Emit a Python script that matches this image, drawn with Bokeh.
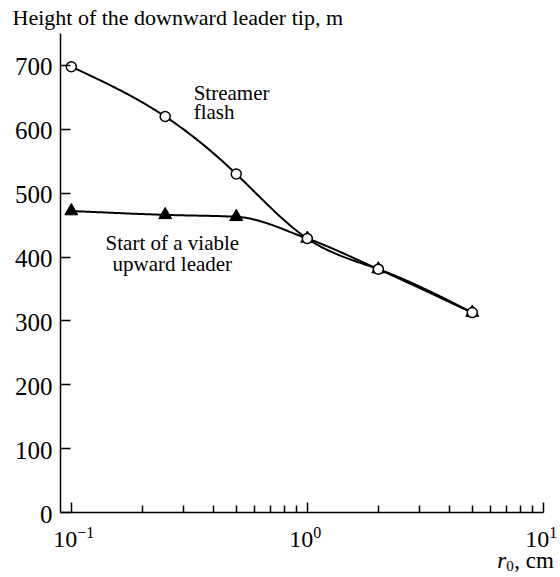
import numpy as np
from bokeh.plotting import figure
from bokeh.models import Range1d, FixedTicker, Label
from bokeh.embed import file_html
from bokeh.resources import INLINE

# ---- data ----
r0_cm = [0.1, 0.25, 0.5, 1.0, 2.0, 5.0]
streamer_flash_m = [698, 620, 530, 429, 381, 313]
viable_leader_m = [472, 466, 463, 429, 381, 313]

y_ticks = [0, 100, 200, 300, 400, 500, 600, 700]
y_tick_labels = ["0", "100", "200", "300", "400", "500", "600", "700"]
x_major = [0.1, 1, 10]
x_minor = [0.2, 0.3, 0.4, 0.5, 0.6, 0.7, 0.8, 0.9, 2, 3, 4, 5, 6, 7, 8, 9]
x_tick_base = ["10", "10", "10"]
x_tick_exp = ["\u22121", "0", "1"]

FONT = "Liberation Serif"

# ---- layout constants (pixels) ----
PX_PER_DECADE = 236.0
PX_PER_UNIT = 479.0 / 750.0     # vertical pixels per metre
TITLE_H = 32                    # height taken by the title band
FRAME_H = 543
LEFT = 8                        # frame starts here; y axis drawn at r0 = 0.09
AXIS_X = 60
FRAME_W = 560 - LEFT
Y0_PAGE = 513                   # page row of height 0
Y_TOP = (Y0_PAGE - TITLE_H) / PX_PER_UNIT
Y_BOT = Y_TOP - FRAME_H / PX_PER_UNIT
X_START = 0.09 * 10 ** (-(AXIS_X - LEFT) / PX_PER_DECADE)
X_END = X_START * 10 ** (FRAME_W / PX_PER_DECADE)


def shift(v, px):
    """data position moved by px screen pixels on the log axis"""
    return v * 10 ** (px / PX_PER_DECADE)


def pchip(x, y, n=300):
    x = np.asarray(x, float)
    y = np.asarray(y, float)
    h = np.diff(x)
    d = np.diff(y) / h
    m = np.zeros_like(y)
    m[0], m[-1] = d[0], d[-1]
    for k in range(1, len(y) - 1):
        if d[k - 1] * d[k] > 0:
            w1 = 2 * h[k] + h[k - 1]
            w2 = h[k] + 2 * h[k - 1]
            m[k] = (w1 + w2) / (w1 / d[k - 1] + w2 / d[k])
    xs = np.linspace(x[0], x[-1], n)
    idx = np.clip(np.searchsorted(x, xs) - 1, 0, len(h) - 1)
    t = (xs - x[idx]) / h[idx]
    h00 = 2 * t**3 - 3 * t**2 + 1
    h10 = t**3 - 2 * t**2 + t
    h01 = -2 * t**3 + 3 * t**2
    h11 = t**3 - t**2
    ys = h00 * y[idx] + h10 * h[idx] * m[idx] + h01 * y[idx + 1] + h11 * h[idx] * m[idx + 1]
    return xs, ys


def natural_spline(x, y, n=300):
    x = np.asarray(x, float)
    y = np.asarray(y, float)
    k = len(x)
    h = np.diff(x)
    A = np.zeros((k, k))
    b = np.zeros(k)
    A[0, 0] = A[-1, -1] = 1
    for i in range(1, k - 1):
        A[i, i - 1] = h[i - 1]
        A[i, i] = 2 * (h[i - 1] + h[i])
        A[i, i + 1] = h[i]
        b[i] = 6 * ((y[i + 1] - y[i]) / h[i] - (y[i] - y[i - 1]) / h[i - 1])
    M = np.linalg.solve(A, b)
    xs = np.linspace(x[0], x[-1], n)
    i = np.clip(np.searchsorted(x, xs) - 1, 0, k - 2)
    hi = h[i]
    a = x[i + 1] - xs
    c = xs - x[i]
    ys = (M[i] * a**3 + M[i + 1] * c**3) / (6 * hi) \
        + (y[i] / hi - M[i] * hi / 6) * a + (y[i + 1] / hi - M[i + 1] * hi / 6) * c
    return xs, ys


p = figure(frame_width=FRAME_W, frame_height=FRAME_H, x_axis_type="log",
           x_range=Range1d(X_START, X_END), y_range=Range1d(Y_BOT, Y_TOP),
           output_backend="svg", toolbar_location=None,
           min_border_left=LEFT, min_border_right=0,
           min_border_top=0, min_border_bottom=0)
p.grid.visible = False
p.outline_line_color = None
p.background_fill_color = "white"
p.border_fill_color = "white"

# title (y-axis caption at top left)
p.title.text = "Height of the downward leader tip, m"
p.title.align = "left"
p.title.offset = 12 - LEFT
p.title.standoff = 4
p.title.text_font = FONT
p.title.text_font_size = "22px"
p.title.text_font_style = "normal"
p.title.text_color = "black"

# axes (lines and ticks; their labels are drawn as text below)
for ax in (p.xaxis[0], p.yaxis[0]):
    ax.axis_line_color = "black"
    ax.axis_line_width = 1.5
    ax.major_tick_line_color = "black"
    ax.major_tick_line_width = 1.5
    ax.major_tick_in = 10
    ax.major_tick_out = 0
    ax.major_label_text_font = FONT
    ax.major_label_text_color = "black"
    ax.major_label_standoff = 0
    ax.major_label_text_font_size = "1px"

ya = p.yaxis[0]
ya.fixed_location = 0.09
ya.bounds = (0, 750)
ya.ticker = FixedTicker(ticks=y_ticks)
ya.minor_tick_line_color = None
ya.major_label_overrides = {t: "" for t in y_ticks}

xa = p.xaxis[0]
xa.fixed_location = 0
xa.bounds = (0.09, 10)
xa.ticker = FixedTicker(ticks=x_major, minor_ticks=x_minor)
xa.minor_tick_line_color = "black"
xa.minor_tick_line_width = 1.5
xa.minor_tick_in = 7
xa.minor_tick_out = 0
xa.major_label_overrides = {t: "" for t in x_major}


def text(x, page_baseline, s, size_px, align="left", style="normal"):
    """text whose baseline sits on the given page row"""
    y = (Y0_PAGE - page_baseline + 0.28 * size_px) / PX_PER_UNIT
    p.add_layout(Label(x=x, y=y, text=s, text_align=align,
                       text_baseline="alphabetic", text_font=FONT,
                       text_font_style=style, text_font_size=f"{size_px}px",
                       text_color="black"))


# y tick labels
for v, s in zip(y_ticks, y_tick_labels):
    text(shift(0.09, -8), Y0_PAGE - v * PX_PER_UNIT + 8.5, s, 25, "right")

# x tick labels 10^n
for t, base, e in zip(x_major, x_tick_base, x_tick_exp):
    text(shift(t, 6), 547, base, 24, "right")
    text(shift(t, 6), 537, e, 16, "left")

# axis caption r0, cm
text(shift(10, -46), 567, "r", 23, "left", "italic")
text(shift(10, -37), 571, "0", 15, "left")
text(shift(10, -29), 567, ", cm", 23, "left")

# curves
lx = np.log10(r0_cm)
xs, ys = natural_spline(lx, streamer_flash_m)
p.line(10**xs, ys, line_color="black", line_width=2)
xs2, ys2 = pchip(lx, viable_leader_m)
p.line(10**xs2, ys2, line_color="black", line_width=2)

p.scatter(r0_cm, viable_leader_m, marker="triangle", size=13,
          fill_color="black", line_color="black")
p.scatter(r0_cm, streamer_flash_m, marker="circle", size=10,
          fill_color="white", line_color="black", line_width=1.5)

# curve annotations
text(0.33, 99, "Streamer", 21)
text(0.33, 118, "flash", 21)
text(0.268, 249, "Start of a viable", 21, "center")
text(0.268, 270, "upward leader", 21, "center")

open("out.html", "w").write(file_html(p, INLINE))
